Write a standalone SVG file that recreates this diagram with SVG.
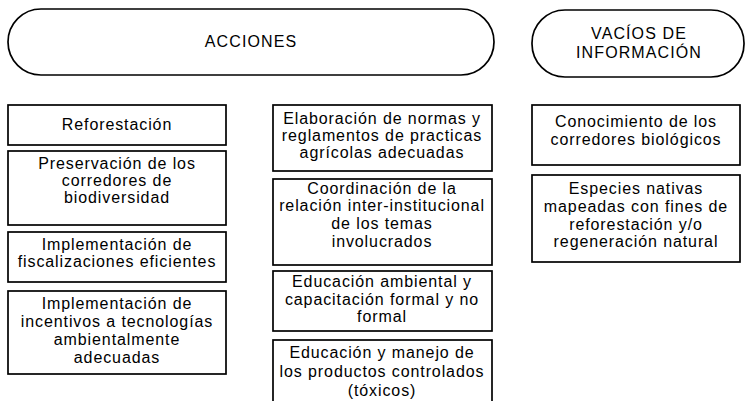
<svg xmlns="http://www.w3.org/2000/svg" width="746" height="401" viewBox="0 0 746 401">
<style>
.bg{fill:#ffffff}
.pill,.box{fill:#ffffff;stroke:#000000;stroke-width:1.7}
.t{font-family:"Liberation Sans",Arial,sans-serif;font-size:16px;letter-spacing:0.9px;text-anchor:middle;fill:#000000}
.h{font-family:"Liberation Sans",Arial,sans-serif;font-size:16px;letter-spacing:1.1px;text-anchor:middle;fill:#000000}
</style>
<rect class="bg" x="0" y="0" width="746" height="401"/>
<g id="acciones">
<rect class="pill" x="8" y="9" width="486" height="66" rx="33" ry="33"/>
<text class="h" x="251" y="47">ACCIONES</text>
</g>
<g id="vacios">
<rect class="pill" x="532" y="10" width="212" height="67" rx="33" ry="33"/>
<text class="h" x="639" y="39">VACÍOS DE</text>
<text class="h" x="639" y="58">INFORMACIÓN</text>
</g>
<g id="reforestacion">
<rect class="box" x="8" y="105" width="218" height="40"/>
<text class="t" x="117" y="130">Reforestación</text>
</g>
<g id="preservacion">
<rect class="box" x="8" y="151" width="218" height="74"/>
<text class="t" x="117" y="169">Preservación de los</text>
<text class="t" x="117" y="186">corredores de</text>
<text class="t" x="117" y="203">biodiversidad</text>
</g>
<g id="fiscalizaciones">
<rect class="box" x="8" y="232" width="218" height="50"/>
<text class="t" x="117" y="250">Implementación de</text>
<text class="t" x="117" y="267">fiscalizaciones eficientes</text>
</g>
<g id="incentivos">
<rect class="box" x="8" y="291" width="218" height="83"/>
<text class="t" x="117" y="309">Implementación de</text>
<text class="t" x="117" y="327">incentivos a tecnologías</text>
<text class="t" x="117" y="345">ambientalmente</text>
<text class="t" x="117" y="363">adecuadas</text>
</g>
<g id="elaboracion">
<rect class="box" x="273" y="105" width="219" height="66"/>
<text class="t" x="382" y="124">Elaboración de normas y</text>
<text class="t" x="382" y="141">reglamentos de practicas</text>
<text class="t" x="382" y="158">agrícolas adecuadas</text>
</g>
<g id="coordinacion">
<rect class="box" x="273" y="179" width="219" height="86"/>
<text class="t" x="382" y="194">Coordinación de la</text>
<text class="t" x="382" y="211">relación inter-institucional</text>
<text class="t" x="382" y="229">de los temas</text>
<text class="t" x="382" y="247">involucrados</text>
</g>
<g id="educacion-ambiental">
<rect class="box" x="273" y="271" width="219" height="60"/>
<text class="t" x="382" y="287">Educación ambiental y</text>
<text class="t" x="382" y="305">capacitación formal y no</text>
<text class="t" x="382" y="322">formal</text>
</g>
<g id="educacion-manejo">
<rect class="box" x="273" y="340" width="219" height="70"/>
<text class="t" x="382" y="358">Educación y manejo de</text>
<text class="t" x="382" y="377">los productos controlados</text>
<text class="t" x="382" y="396">(tóxicos)</text>
</g>
<g id="conocimiento">
<rect class="box" x="532" y="105" width="208" height="60"/>
<text class="t" x="636" y="127">Conocimiento de los</text>
<text class="t" x="636" y="145">corredores biológicos</text>
</g>
<g id="especies">
<rect class="box" x="532" y="175" width="208" height="87"/>
<text class="t" x="636" y="194">Especies nativas</text>
<text class="t" x="636" y="212">mapeadas con fines de</text>
<text class="t" x="636" y="230">reforestación y/o</text>
<text class="t" x="636" y="247">regeneración natural</text>
</g>
<g id="connectors"></g>
</svg>
